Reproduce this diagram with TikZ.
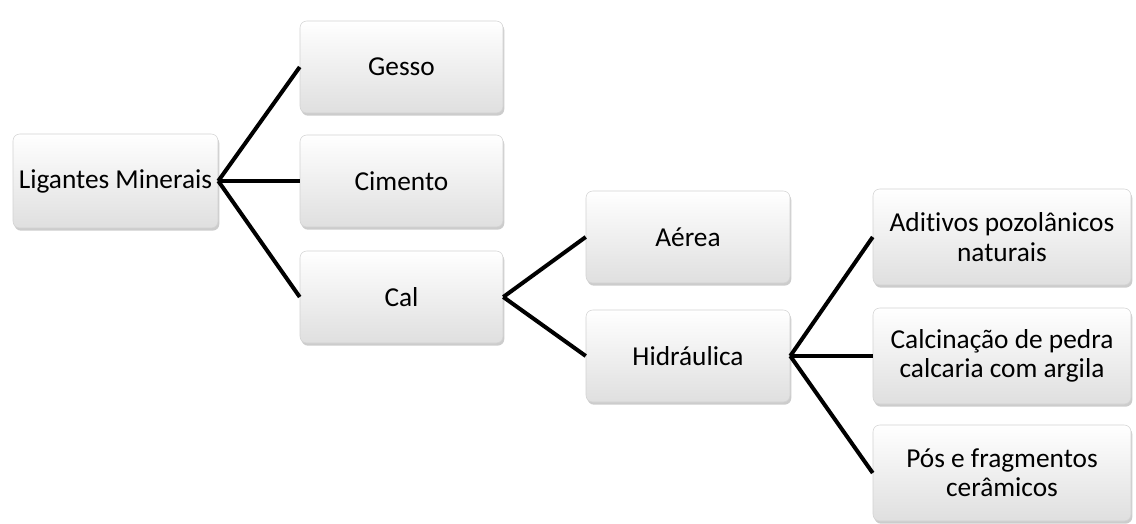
\documentclass[tikz,border=0pt]{standalone}
\usepackage{fontspec}
\setmainfont[Ligatures=NoCommon]{Carlito}
\usetikzlibrary{shadows}
\begin{document}
\begin{tikzpicture}[x=0.75pt,y=-0.75pt,
  box/.style={rectangle, rounded corners=5pt, top color=white, bottom color=gray!25,
    draw=gray!35, line width=0.4pt, drop shadow={shadow xshift=1pt, shadow yshift=-2pt, opacity=0.4},
    font=\fontsize{20.5}{22}\selectfont, align=center, inner sep=0pt},
  conn/.style={line width=3pt, black}]
\useasboundingbox (0,0) rectangle (1136,524);
\node[box, minimum width=205*0.75pt, minimum height=94*0.75pt] (lig) at (115.5,181) {Ligantes Minerais};
\node[box, minimum width=203*0.75pt, minimum height=92*0.75pt] (ges) at (401.5,67) {Gesso};
\node[box, minimum width=203*0.75pt, minimum height=92*0.75pt] (cim) at (401.5,181) {Cimento};
\node[box, minimum width=203*0.75pt, minimum height=92*0.75pt] (cal) at (401.5,297) {Cal};
\node[box, minimum width=204*0.75pt, minimum height=92*0.75pt] (aer) at (688,237) {Aérea};
\node[box, minimum width=204*0.75pt, minimum height=92*0.75pt] (hid) at (688,356) {Hidráulica};
\node[box, minimum width=258*0.75pt, minimum height=96*0.75pt] (adi) at (1002,237) {Aditivos pozolânicos\\naturais};
\node[box, minimum width=258*0.75pt, minimum height=96*0.75pt] (calc) at (1002,356) {Calcinação de pedra\\calcaria com argila};
\node[box, minimum width=258*0.75pt, minimum height=96*0.75pt] (pos) at (1002,473) {Pós e fragmentos\\cerâmicos};
\draw[conn] (lig.east) -- (ges.west);
\draw[conn] (lig.east) -- (cim.west);
\draw[conn] (lig.east) -- (cal.west);
\draw[conn] (cal.east) -- (aer.west);
\draw[conn] (cal.east) -- (hid.west);
\draw[conn] (hid.east) -- (adi.west);
\draw[conn] (hid.east) -- (calc.west);
\draw[conn] (hid.east) -- (pos.west);
\end{tikzpicture}
\end{document}
